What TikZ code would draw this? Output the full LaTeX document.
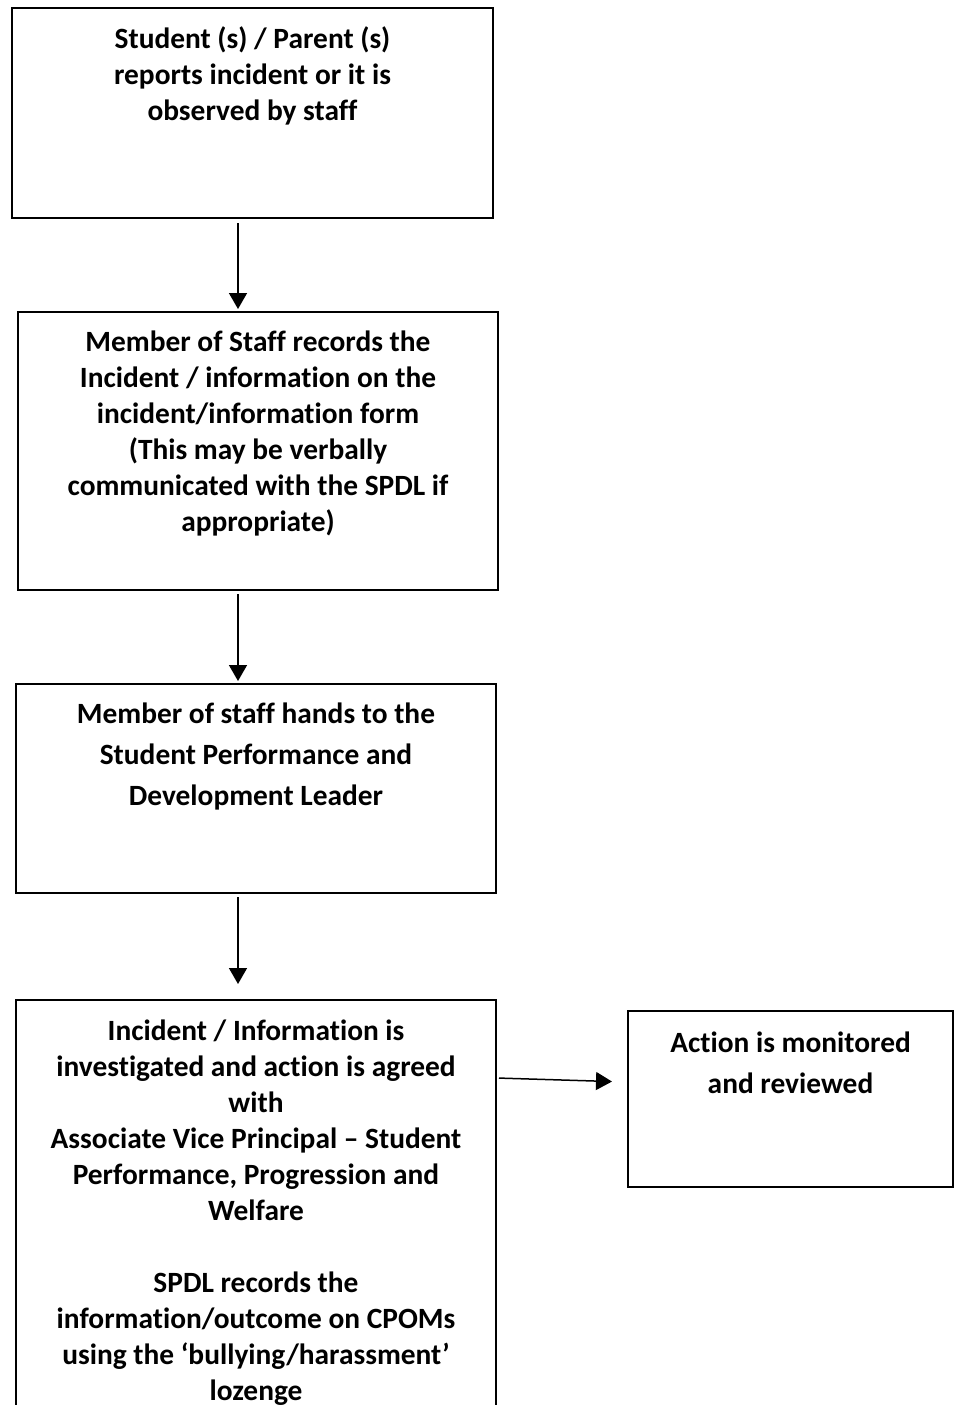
\documentclass[tikz,border=0pt]{standalone}
\usepackage{fontspec}
\setmainfont{Carlito}[Ligatures={NoCommon}]
\usetikzlibrary{arrows.meta, positioning}

\tikzset{
  box/.style={draw, line width=1pt, inner sep=0pt},
  txt/.style={align=center, inner sep=0pt, font=\bfseries\fontsize{14.7}{18}\selectfont},
  txtwide/.style={txt, font=\bfseries\fontsize{14.7}{20.5}\selectfont},
  arr/.style={-{Triangle[width=9pt,length=8pt]}, line width=0.75pt}
}

\begin{document}
\begin{tikzpicture}[x=0.5pt,y=-0.5pt]
\useasboundingbox (0,0) rectangle (958,1405);
\clip (0,0) rectangle (958,1405);

% boxes
\node[box, minimum width=240.5pt, minimum height=105pt] (report) at (252.5,113) {};
\node[box, minimum width=240pt, minimum height=139pt] (record) at (258,451) {};
\node[box, minimum width=240pt, minimum height=104.5pt] (hand) at (256,788.5) {};
\node[box, minimum width=240pt, minimum height=220pt] (investigate) at (256,1220) {};
\node[box, minimum width=162.5pt, minimum height=88pt] (monitor) at (790.5,1099) {};

% texts
\node[txt, below=9.5pt of report.north] (reporttxt) {Student (s) / Parent (s)\\reports incident or it is\\observed by staff};
\node[txt, below=9.5pt of record.north] (recordtxt) {Member of Staff records the\\Incident / information on the\\incident/information form\\(This may be verbally\\communicated with the SPDL if\\appropriate)};
\node[txtwide, below=9.5pt of hand.north] (handtxt) {Member of staff hands to the\\Student Performance and\\Development Leader};
\node[txt, below=10pt of investigate.north] (investigatetxt) {Incident / Information is\\investigated and action is agreed\\with\\Associate Vice Principal -- Student\\Performance, Progression and\\Welfare\\[18pt]SPDL records the\\information/outcome on CPOMs\\using the ‘bullying/harassment’\\lozenge};
\node[txtwide, below=10.5pt of monitor.north] (monitortxt) {Action is monitored\\and reviewed};

% arrows
\coordinate (axis) at (238,0);
\draw[arr, shorten <=2pt, shorten >=1pt] (report.south -| axis) -- (record.north -| axis);
\draw[arr, shorten <=1.5pt, shorten >=1pt] (record.south -| axis) -- (hand.north -| axis);
\draw[arr, shorten <=1.5pt, shorten >=7.5pt] (hand.south -| axis) -- (investigate.north -| axis);
\draw[arr, shorten <=1pt, shorten >=7.5pt] ([yshift=71pt]investigate.east) -- ([yshift=8.5pt]monitor.west);

\end{tikzpicture}
\end{document}
